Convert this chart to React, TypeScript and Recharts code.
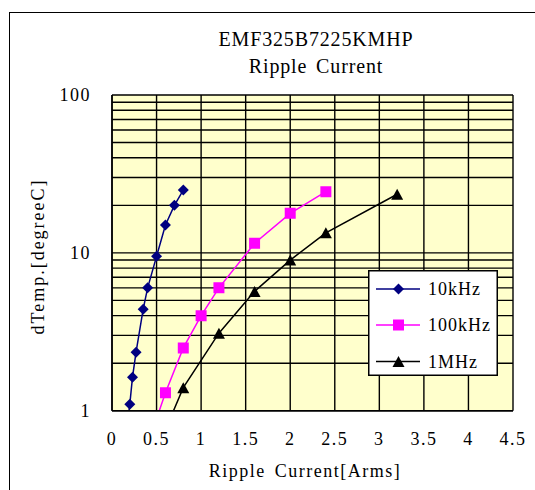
import React from 'react';
import { LineChart, Line, XAxis, YAxis, CartesianGrid, Legend } from 'recharts';

const titleLines = ['EMF325B7225KMHP', 'Ripple Current'];
const xAxisTitle = 'Ripple Current[Arms]';
const yAxisTitle = 'dTemp.[degreeC]';

const xTicks = [0, 0.5, 1, 1.5, 2, 2.5, 3, 3.5, 4, 4.5];
const yTicks = [1, 2, 3, 4, 5, 6, 7, 8, 9, 10, 20, 30, 40, 50, 60, 70, 80, 90, 100];
const yLabelTicks = [1, 10, 100];

const current10k = [0.17, 0.2, 0.23, 0.27, 0.35, 0.4, 0.5, 0.6, 0.7, 0.8];
const temp10k = [0.8, 1.1, 1.63, 2.35, 4.4, 6, 9.5, 15, 20, 25];
const current100k = [0.4, 0.6, 0.8, 1, 1.2, 1.6, 2, 2.4];
const temp100k = [0.61, 1.3, 2.5, 4, 6, 11.5, 17.8, 24.4];
const current1M = [0.4, 0.8, 1.2, 1.6, 2, 2.4, 3.2];
const temp1M = [0.41, 1.4, 3.1, 5.7, 9, 13.4, 23.5];

const FONT = 'Liberation Serif, Times New Roman, serif';
const txt = { fontFamily: FONT };

const toData = (xs: number[], ys: number[]) => xs.map((x, i) => ({ x, y: ys[i] }));

type Shape = 'diamond' | 'square' | 'triangle';

const series = [
  { name: '10kHz', color: '#000080', shape: 'diamond' as Shape, data: toData(current10k, temp10k) },
  { name: '100kHz', color: '#FF00FF', shape: 'square' as Shape, data: toData(current100k, temp100k) },
  { name: '1MHz', color: '#000000', shape: 'triangle' as Shape, data: toData(current1M, temp1M) },
];

const markerPath = (shape: Shape, cx: number, cy: number) => {
  if (shape === 'diamond') {
    const r = 5.5;
    return `M${cx},${cy - r}L${cx + r},${cy}L${cx},${cy + r}L${cx - r},${cy}Z`;
  }
  if (shape === 'square') {
    const r = 5.5;
    return `M${cx - r},${cy - r}H${cx + r}V${cy + r}H${cx - r}Z`;
  }
  const w = 6, h = 5.5;
  return `M${cx},${cy - h}L${cx + w},${cy + h}L${cx - w},${cy + h}Z`;
};

const makeDot = (shape: Shape, color: string) => (props: any) => {
  const { cx, cy, index } = props;
  if (cx == null || cy == null || !isFinite(cx) || !isFinite(cy)) return <g key={`e-${shape}-${index}`} />;
  return <path key={`${shape}-${index}`} d={markerPath(shape, cx, cy)} fill={color} stroke="none" />;
};

const XTick = (props: any) => {
  const { x, y, payload } = props;
  return (
    <text x={x} y={y + 34.5} textAnchor="middle" style={txt} fontSize={18} letterSpacing={1.5} fill="#000">
      {String(payload.value)}
    </text>
  );
};

const YTick = (props: any) => {
  const { x, y, payload } = props;
  if (!yLabelTicks.includes(payload.value)) return <g />;
  return (
    <text x={x - 21} y={y + 6} textAnchor="end" style={txt} fontSize={18} letterSpacing={1.5} fill="#000">
      {String(payload.value)}
    </text>
  );
};

const LegendContent = () => {
  const rows = [19, 55, 91.5];
  return (
    <svg width={130} height={106} style={{ display: 'block' }}>
      <rect x={0.75} y={0.75} width={128.5} height={104.5} fill="#FFFFFF" stroke="#000" strokeWidth={1.5} />
      {series.map((s, i) => (
        <g key={s.name}>
          <line x1={8} x2={52} y1={rows[i]} y2={rows[i]} stroke={s.color} strokeWidth={1.5} />
          <path d={markerPath(s.shape, 30.5, rows[i])} fill={s.color} />
          <text x={60} y={rows[i] + 6} style={txt} fontSize={18} letterSpacing={1} fill="#000">
            {s.name}
          </text>
        </g>
      ))}
    </svg>
  );
};

export default function App() {
  return (
    <div style={{ position: 'absolute', left: 0, top: 0, width: 535, height: 490, overflow: 'hidden', background: '#fff', fontFamily: FONT }}>
      <svg width={535} height={490} style={{ position: 'absolute', left: 0, top: 0 }}>
        <rect x={9.5} y={12.5} width={540} height={500} fill="#fff" stroke="#000" strokeWidth={1} />
      </svg>
      <div style={{ position: 'absolute', left: 0, top: 0 }}>
        <LineChart width={535} height={490} margin={{ top: 95, right: 22, bottom: 49.3, left: 52 }}>
          <CartesianGrid stroke="#000" strokeWidth={1.4} fill="#FFFFCC" fillOpacity={1} />
          <XAxis
            type="number"
            dataKey="x"
            domain={[0, 4.5]}
            ticks={xTicks}
            interval={0}
            height={30}
            tickSize={0}
            tickMargin={0}
            tickLine={false}
            axisLine={{ stroke: '#000', strokeWidth: 1.5 }}
            tick={<XTick />}
            allowDataOverflow
          />
          <YAxis
            type="number"
            dataKey="y"
            scale="log"
            domain={[1, 100]}
            ticks={yTicks}
            interval={0}
            width={60}
            tickSize={0}
            tickMargin={0}
            tickLine={false}
            axisLine={{ stroke: '#000', strokeWidth: 1.5 }}
            tick={<YTick />}
            allowDataOverflow
          />
          {series.map((s) => (
            <Line
              key={s.name}
              data={s.data}
              dataKey="y"
              name={s.name}
              type="linear"
              stroke={s.color}
              strokeWidth={1.5}
              dot={makeDot(s.shape, s.color)}
              activeDot={false}
              isAnimationActive={false}
            />
          ))}
          <Legend
            layout="vertical"
            align="center"
            verticalAlign="middle"
            content={<LegendContent />}
            wrapperStyle={{ position: 'absolute', left: 368.3, top: 270, width: 130, height: 106, margin: 0, padding: 0 }}
          />
        </LineChart>
      </div>
      <svg width={535} height={490} style={{ position: 'absolute', left: 0, top: 0, pointerEvents: 'none' }}>
        <text x={316} y={45.7} textAnchor="middle" style={txt} fontSize={20} letterSpacing={0.85} fill="#000">
          {titleLines[0]}
        </text>
        <text x={316} y={73} textAnchor="middle" style={txt} fontSize={20} letterSpacing={0.85} fill="#000" wordSpacing={3}>
          {titleLines[1]}
        </text>
        <text x={305} y={477} textAnchor="middle" style={txt} fontSize={18} letterSpacing={1.5} fill="#000" wordSpacing={3}>
          {xAxisTitle}
        </text>
        <text
          x={0}
          y={0}
          transform="translate(44, 256.5) rotate(-90)"
          textAnchor="middle"
          style={txt}
          fontSize={18}
          letterSpacing={2}
          fill="#000"
        >
          {yAxisTitle}
        </text>
      </svg>
    </div>
  );
}
